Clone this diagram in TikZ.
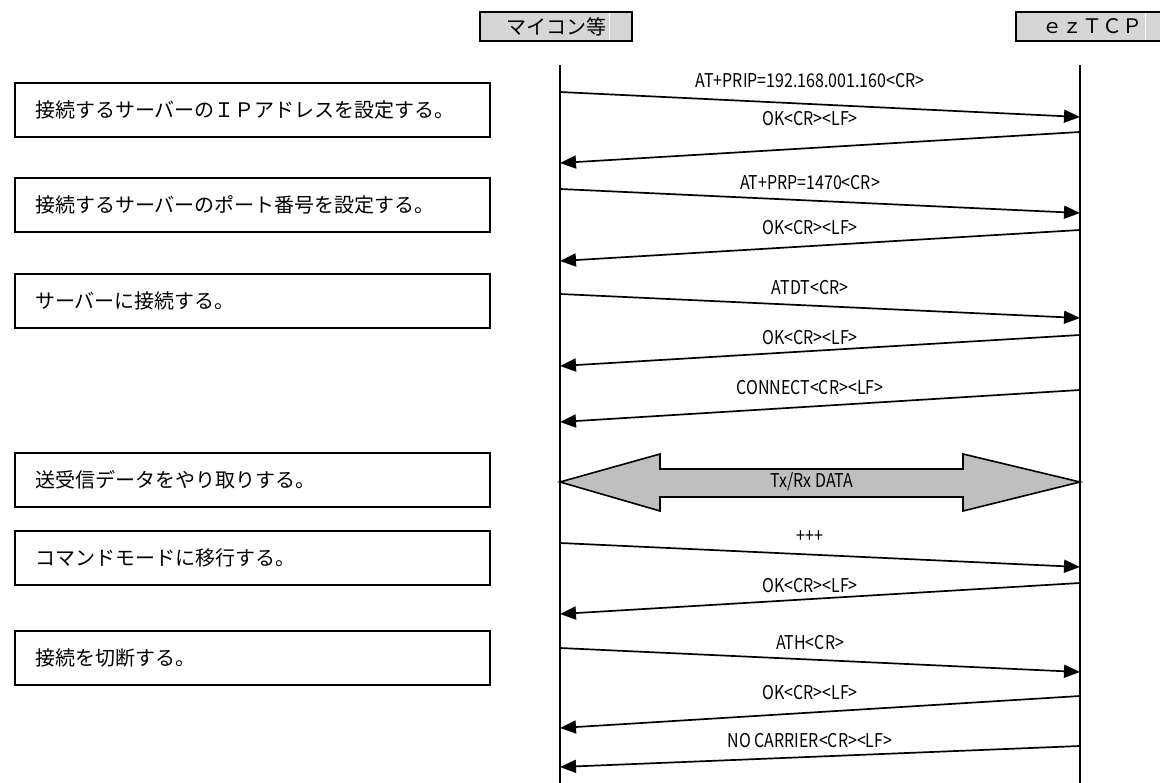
\documentclass[tikz,border=0pt]{standalone}
\usepackage{fontspec}
\usepackage{tikz}
\usetikzlibrary{arrows.meta}
\newfontfamily\jpfont{Noto Sans CJK JP}
\newfontfamily\msgfont[FakeStretch=0.84]{Noto Sans CJK JP}

\begin{document}
\begin{tikzpicture}[x=1pt,y=-1pt]
	\tikzstyle{every node}+=[inner sep=0pt]
	\tikzstyle{hdr}=[draw=black, line width=2pt, fill=black!16, minimum width=152pt, minimum height=29pt, font=\jpfont\fontsize{20}{20}\selectfont]
	\tikzstyle{act}=[draw=black, line width=1.6pt, minimum height=54pt, text width=435pt, inner xsep=20pt, align=left, font=\jpfont\fontsize{20}{20}\selectfont]
	\tikzstyle{msg}=[font=\msgfont\fontsize{19}{19}\selectfont]
	\tikzstyle{sig}=[line width=1.7pt, -{Triangle[length=16pt,width=13pt]}]
	\clip (0,0) rectangle (1160,783);
	\node [hdr] (mcu) at (556,26.5) {マイコン等};
	\node [hdr] (eztcp) at (1092,26.5) {ｅｚＴＣＰ};
	\draw [white, line width=1pt] (609,13) -- (609,40);
	\draw [white, line width=1pt] (1145,13) -- (1145,40);
	\coordinate (mcutop) at (560,65);
	\coordinate (mcubot) at (560,783);
	\coordinate (tcptop) at (1080,65);
	\coordinate (tcpbot) at (1080,783);
	\draw [line width=1.3pt] (mcutop) -- (mcubot);
	\draw [line width=1.3pt] (tcptop) -- (tcpbot);
	\node [act] (setip) at (252.5,110) {接続するサーバーのＩＰアドレスを設定する。};
	\node [act] (setport) at (252.5,205) {接続するサーバーのポート番号を設定する。};
	\node [act] (conn) at (252.5,301) {サーバーに接続する。};
	\node [act] (xfer) at (252.5,480) {送受信データをやり取りする。};
	\node [act] (cmdmode) at (252.5,558) {コマンドモードに移行する。};
	\node [act] (disc) at (252.5,658) {接続を切断する。};
	\coordinate (s1) at (560,92);
	\coordinate (e1) at (1080,117);
	\draw [sig] (s1) -- (e1);
	\node [msg] (l1) at (810,81) {AT+PRIP=192.168.001.160<CR>};
	\coordinate (s2) at (1080,132);
	\coordinate (e2) at (560,163);
	\draw [sig] (s2) -- (e2);
	\node [msg] (l2) at (810,119) {OK<CR><LF>};
	\coordinate (s3) at (560,189);
	\coordinate (e3) at (1080,213);
	\draw [sig] (s3) -- (e3);
	\node [msg] (l3) at (810,183) {AT+PRP=1470<CR>};
	\coordinate (s4) at (1080,230);
	\coordinate (e4) at (560,261);
	\draw [sig] (s4) -- (e4);
	\node [msg] (l4) at (810,228) {OK<CR><LF>};
	\coordinate (s5) at (560,294);
	\coordinate (e5) at (1080,318);
	\draw [sig] (s5) -- (e5);
	\node [msg] (l5) at (810,288) {ATDT<CR>};
	\coordinate (s6) at (1080,335);
	\coordinate (e6) at (560,366);
	\draw [sig] (s6) -- (e6);
	\node [msg] (l6) at (810,338) {OK<CR><LF>};
	\coordinate (s7) at (1080,390);
	\coordinate (e7) at (560,422);
	\draw [sig] (s7) -- (e7);
	\node [msg] (l7) at (810,388) {CONNECT<CR><LF>};
	\coordinate (dl) at (560,482);
	\coordinate (dr) at (1080,482);
	\draw [line width=1.6pt, fill=black!25] (dl) -- (660,454) -- (660,469) -- (963,469) -- (963,454) -- (dr) -- (963,511) -- (963,497) -- (660,497) -- (660,511) -- cycle;
	\node [msg] (ldata) at (812,482) {Tx/Rx DATA};
	\coordinate (s8) at (560,543);
	\coordinate (e8) at (1080,567);
	\draw [sig] (s8) -- (e8);
	\node [msg] (l8) at (810,537) {+++};
	\coordinate (s9) at (1080,583);
	\coordinate (e9) at (560,614);
	\draw [sig] (s9) -- (e9);
	\node [msg] (l9) at (810,586) {OK<CR><LF>};
	\coordinate (s10) at (560,648);
	\coordinate (e10) at (1080,672);
	\draw [sig] (s10) -- (e10);
	\node [msg] (l10) at (810,643) {ATH<CR>};
	\coordinate (s11) at (1080,696);
	\coordinate (e11) at (560,728);
	\draw [sig] (s11) -- (e11);
	\node [msg] (l11) at (810,693) {OK<CR><LF>};
	\coordinate (s12) at (1080,746);
	\coordinate (e12) at (560,767);
	\draw [sig] (s12) -- (e12);
	\node [msg] (l12) at (810,741) {NO CARRIER<CR><LF>};
\end{tikzpicture}
\end{document}
